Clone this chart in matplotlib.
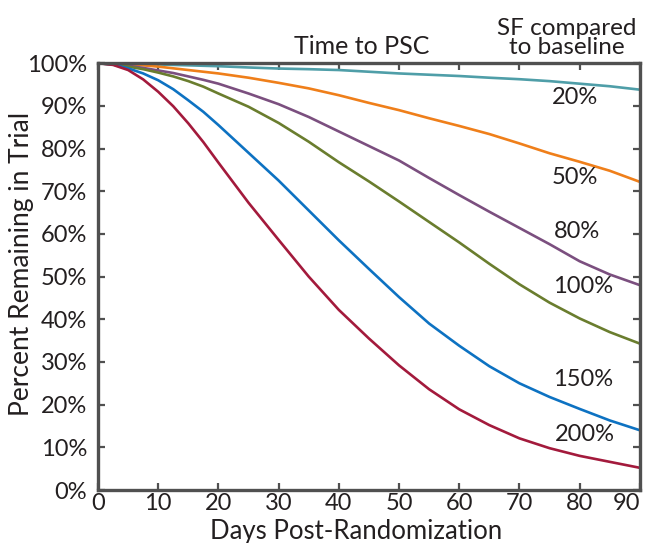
import matplotlib
matplotlib.use("Agg")
import matplotlib.pyplot as plt

days = [0, 2.5, 5, 7.5, 10, 12.5, 15, 17.5, 20, 25, 30, 35, 40, 45, 50, 55, 60, 65, 70, 75, 80, 85, 90]

sf_20 = [100, 99.95, 99.9, 99.8, 99.7, 99.6, 99.5, 99.4, 99.3, 99.0, 98.75, 98.6, 98.4, 98.0, 97.6, 97.3, 97.0, 96.6, 96.25, 95.8, 95.2, 94.6, 93.8]
sf_50 = [100, 99.9, 99.7, 99.5, 99.2, 98.8, 98.4, 98.0, 97.6, 96.6, 95.4, 94.1, 92.5, 90.7, 89.0, 87.1, 85.3, 83.4, 81.2, 78.9, 76.9, 74.8, 72.2]
sf_80 = [100, 99.8, 99.4, 98.9, 98.3, 97.7, 96.9, 96.1, 95.2, 92.9, 90.4, 87.4, 84.0, 80.6, 77.2, 73.1, 69.1, 65.2, 61.4, 57.6, 53.6, 50.5, 48.0]
sf_100 = [100, 99.7, 99.2, 98.6, 97.8, 96.9, 95.8, 94.5, 92.9, 89.8, 86.0, 81.6, 76.8, 72.3, 67.6, 62.8, 58.0, 53.0, 48.2, 43.9, 40.2, 37.0, 34.3]
sf_150 = [100, 99.7, 98.8, 97.6, 96.0, 93.9, 91.3, 88.6, 85.5, 79.0, 72.5, 65.5, 58.5, 51.8, 45.2, 39.0, 33.8, 29.0, 25.0, 21.8, 19.0, 16.3, 14.0]
sf_200 = [100, 99.6, 98.4, 96.2, 93.3, 89.9, 85.9, 81.5, 76.7, 67.3, 58.6, 50.0, 42.2, 35.5, 29.2, 23.6, 18.9, 15.2, 12.1, 9.8, 8.0, 6.6, 5.2]

series_labels = ["20%", "50%", "80%", "100%", "150%", "200%"]
label_x = [79.2, 79.2, 79.6, 80.6, 80.6, 80.9]
label_y = [91.9, 73.2, 60.5, 47.6, 25.8, 12.9]
colors = ["#4f9ea8", "#ef7f1a", "#7b4f7f", "#6a7d2e", "#0d72c2", "#a31a3c"]

x_ticks = [0, 10, 20, 30, 40, 50, 60, 70, 80, 90]
y_ticks = [0, 10, 20, 30, 40, 50, 60, 70, 80, 90, 100]
y_ticklabels = [f"{v}%" for v in y_ticks]

plt.rcParams['font.family'] = ['Lato', 'DejaVu Sans']
text_color = "#231f20"
axis_color = "#505050"

fig = plt.figure(figsize=(6.45, 5.43), dpi=100)
ax = fig.add_axes([0.152, 0.0976, 0.840, 0.786])

all_series = [sf_20, sf_50, sf_80, sf_100, sf_150, sf_200]
for vals, c in zip(all_series, colors):
    ax.plot(days, vals, color=c, lw=1.9, solid_joinstyle='round')

for lab, lx, ly in zip(series_labels, label_x, label_y):
    ax.text(lx, ly, lab, ha='center', va='center', fontsize=17, color=text_color)

ax.set_xlim(0, 90)
ax.set_ylim(0, 100)
ax.set_xticks(x_ticks)
ax.set_xticklabels([str(v) for v in x_ticks], fontsize=17, color=text_color)
ax.get_xticklabels()[-1].set_ha('right')
ax.set_yticks(y_ticks)
ax.set_yticklabels(y_ticklabels, fontsize=17, color=text_color)

ax.tick_params(direction='in', length=5, width=1.6, color=axis_color,
               top=True, right=True, pad=8)
ax.tick_params(axis='x', pad=2)
for s in ax.spines.values():
    s.set_color(axis_color)
    s.set_linewidth(2.4)

ax.set_xlabel("Days Post-Randomization", fontsize=18.5, color=text_color)
ax.xaxis.set_label_coords(0.476, -0.068)
ax.set_ylabel("Percent Remaining in Trial", fontsize=19, color=text_color)
ax.yaxis.set_label_coords(-0.118, 0.53)

ax.text(0.487, 1.012, "Time to PSC", transform=ax.transAxes, ha='center', va='bottom',
        fontsize=18, color=text_color)
ax.text(0.865, 1.012, "SF compared\nto baseline", transform=ax.transAxes, ha='center', va='bottom',
        fontsize=17.5, color=text_color, linespacing=0.9)

fig.savefig("out.png", dpi=100)
